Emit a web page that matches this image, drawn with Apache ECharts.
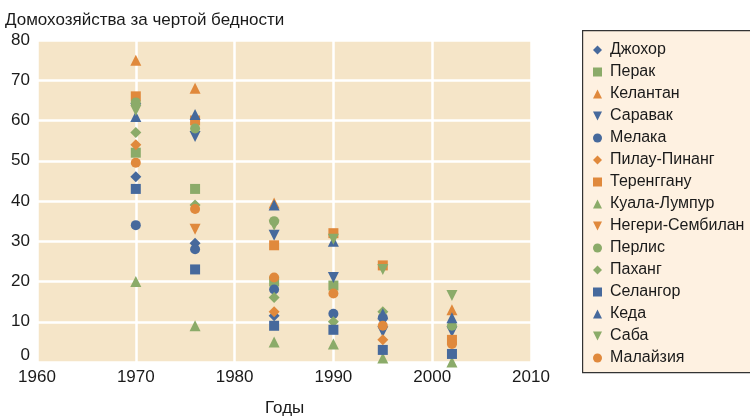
<!DOCTYPE html>
<html>
<head>
<meta charset="utf-8">
<script src="https://cdn.jsdelivr.net/npm/echarts@6/dist/echarts.min.js"></script>
<style>
  html, body { margin: 0; padding: 0; background: #ffffff; }
  #chart { width: 750px; height: 419px; }
</style>
</head>
<body>
<div id="chart"></div>
<script>
// Survey years
const years = [1970, 1976, 1984, 1990, 1995, 2002];

// Share of households below the poverty line, % (null = no point drawn)
const johor        = [46, 29.5, 11.5, null, null, null];
const perak        = [52, 43, 20, 19, null, null];
const kelantan     = [75, 68, 39.5, null, null, 13];
const sarawak      = [63, 56, 31.5, 21, 7.5, 7.5];
const melaka       = [34, 28, 18, 12, 11, null];
const penang       = [54, null, 12.5, null, 5.5, null];
const terengganu   = [66, 60, 29, 32, 24, 5.5];
const kualaLumpur  = [20, 9, 5, 4.5, 1, 0];
const negeri       = [null, 33, null, null, null, null];
const perlis       = [64.5, 58, 35, null, null, 9];
const pahang       = [57, 39, 16, 10, 12.5, null];
const selangor     = [43, 23, 9, 8, 3, 2];
const kedah        = [61, 61.5, 39, 30, 12, 11];
const sabah        = [62.5, null, 34, 30.5, 23, 16.5];
const malaysia     = [49.5, 38, 21, 17, 9, 4.5];

const xTicks = [1960, 1970, 1980, 1990, 2000, 2010];
const yTicks = [0, 10, 20, 30, 40, 50, 60, 70, 80];

const BLUE = '#46699c', GREEN = '#8bab69', ORANGE = '#e0893c';
const DOWN = 'path://M0,0 L10,0 L5,10 Z';
const FONT = "'Liberation Sans Narrow', 'Liberation Sans', sans-serif";
const INK = '#1a1a1a';

const seriesDefs = [
  ['Джохор', johor, 'diamond', BLUE],
  ['Перак', perak, 'rect', GREEN],
  ['Келантан', kelantan, 'triangle', ORANGE],
  ['Саравак', sarawak, DOWN, BLUE],
  ['Мелака', melaka, 'circle', BLUE],
  ['Пилау-Пинанг', penang, 'diamond', ORANGE],
  ['Теренггану', terengganu, 'rect', ORANGE],
  ['Куала-Лумпур', kualaLumpur, 'triangle', GREEN],
  ['Негери-Сембилан', negeri, DOWN, ORANGE],
  ['Перлис', perlis, 'circle', GREEN],
  ['Паханг', pahang, 'diamond', GREEN],
  ['Селангор', selangor, 'rect', BLUE],
  ['Кеда', kedah, 'triangle', BLUE],
  ['Саба', sabah, DOWN, GREEN],
  ['Малайзия', malaysia, 'circle', ORANGE]
];

const series = seriesDefs.map(([name, vals, symbol, color]) => ({
  name: name,
  type: 'scatter',
  symbol: symbol,
  symbolSize: (symbol === 'circle' || symbol === 'rect') ? 10 : 11,
  clip: false,
  itemStyle: { color: color, opacity: 1 },
  data: years.map((y, i) => vals[i] == null ? null : [y, vals[i]]).filter(d => d)
}));

const chart = echarts.init(document.getElementById('chart'), null, { renderer: 'canvas' });
chart.setOption({
  animation: false,
  backgroundColor: '#ffffff',
  graphic: [
    {
      type: 'rect', left: 582, top: 30, z: -1,
      shape: { width: 180, height: 342 },
      style: { fill: '#fef1e1', stroke: '#333333', lineWidth: 1.2 }
    },
    {
      type: 'text', left: 5, top: 12,
      style: { text: 'Домохозяйства за чертой бедности', font: "17px " + FONT, fill: INK }
    },
    {
      type: 'text', left: 265, top: 400,
      style: { text: 'Годы', font: "17px " + FONT, fill: INK }
    }
  ],
  grid: { left: 37, right: 219, top: 40, bottom: 57, show: true, backgroundColor: '#f5e5c8', borderWidth: 0 },
  xAxis: {
    type: 'value', min: xTicks[0], max: xTicks[xTicks.length - 1], interval: 10,
    axisLine: { show: false }, axisTick: { show: false },
    splitLine: { show: true, lineStyle: { color: '#ffffff', width: 2.5 } },
    axisLabel: { color: INK, fontSize: 17, fontFamily: FONT, margin: 7, formatter: v => String(v) }
  },
  yAxis: {
    type: 'value', min: yTicks[0], max: yTicks[yTicks.length - 1], interval: 10,
    axisLine: { show: false }, axisTick: { show: false },
    splitLine: { show: true, lineStyle: { color: '#ffffff', width: 2.5 } },
    axisLabel: {
      color: INK, fontSize: 17, fontFamily: FONT, margin: 7,
      formatter: v => v === 0 ? '{z|0}' : String(v),
      rich: { z: { fontSize: 17, fontFamily: FONT, color: INK, padding: [0, 0, 14, 0] } }
    }
  },
  legend: {
    orient: 'vertical', left: 588, top: 37,
    itemWidth: 9, itemHeight: 9, itemGap: 6,
    textStyle: { color: INK, fontSize: 16, fontFamily: FONT, padding: [0, 0, 0, 3] },
    data: seriesDefs.map(d => d[0])
  },
  series: series
});
</script>
</body>
</html>
